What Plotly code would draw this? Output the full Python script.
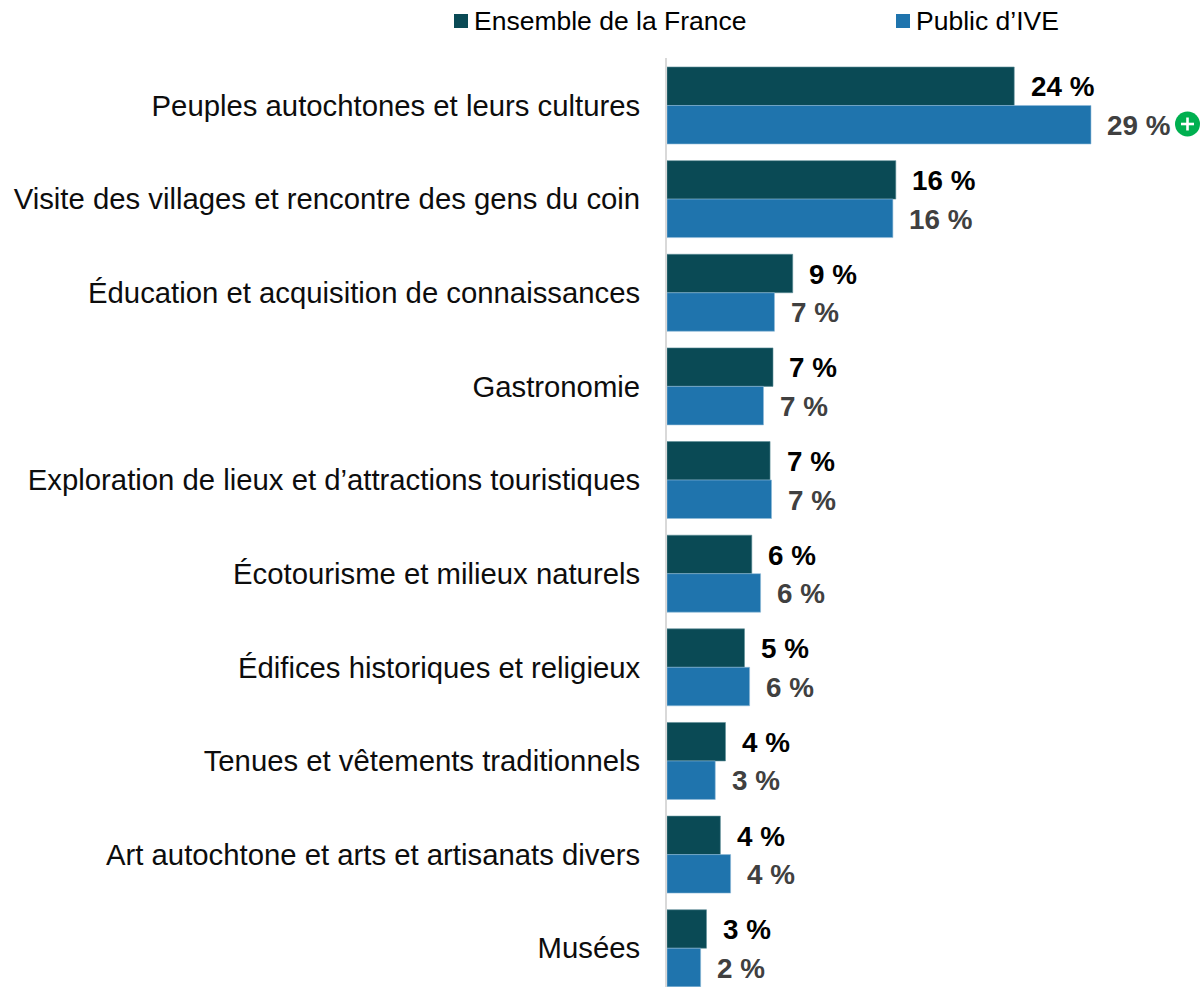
import plotly.graph_objects as go

categories = ["Peuples autochtones et leurs cultures",
              "Visite des villages et rencontre des gens du coin",
              "Éducation et acquisition de connaissances",
              "Gastronomie",
              "Exploration de lieux et d’attractions touristiques",
              "Écotourisme et milieux naturels",
              "Édifices historiques et religieux",
              "Tenues et vêtements traditionnels",
              "Art autochtone et arts et artisanats divers",
              "Musées"]
france = [23.75, 15.65, 8.6, 7.25, 7.05, 5.8, 5.3, 4.0, 3.65, 2.7]
ive = [29.0, 15.45, 7.35, 6.6, 7.15, 6.4, 5.65, 3.3, 4.35, 2.3]
france_labels = ["24 %", "16 %", "9 %", "7 %", "7 %", "6 %", "5 %", "4 %", "4 %", "3 %"]
ive_labels = ["29 %", "16 %", "7 %", "7 %", "7 %", "6 %", "6 %", "3 %", "4 %", "2 %"]

W, H = 1202, 987
L, T = 667, 58
DARK, BLUE, GREEN = "#0A4A55", "#1F74AD", "#00B050"
FONT = "Liberation Sans"


def px(x):
    return (x - L) / (W - L)


def py(y):
    return 1 - (y - T) / (H - T)


fig = go.Figure()
fig.add_bar(y=categories, x=france, orientation="h", name="Ensemble de la France",
            marker=dict(color=DARK, line=dict(color="#5E8F99", width=0.6)))
fig.add_bar(y=categories, x=ive, orientation="h", name="Public d’IVE",
            marker=dict(color=BLUE, line=dict(color="#8FBBD8", width=0.6)))

annotations = []
for c, v, t in zip(categories, france, france_labels):
    annotations.append(dict(x=v, y=c, text=f"<b>{t}</b>", showarrow=False, xanchor="left",
                            xshift=14.5, yshift=18.5, font=dict(family=FONT, size=27.8, color="#000000")))
for c, v, t in zip(categories, ive, ive_labels):
    annotations.append(dict(x=v, y=c, text=f"<b>{t}</b>", showarrow=False, xanchor="left",
                            xshift=14.5, yshift=-20, font=dict(family=FONT, size=27.8, color="#404040")))

shapes = [
    dict(type="rect", xref="paper", yref="paper", x0=px(454), x1=px(468), y0=py(28), y1=py(14),
         fillcolor=DARK, line_width=0),
    dict(type="rect", xref="paper", yref="paper", x0=px(896), x1=px(910), y0=py(28), y1=py(14),
         fillcolor=BLUE, line_width=0),
    dict(type="circle", xref="paper", yref="paper", x0=px(1175), x1=px(1200), y0=py(136.5), y1=py(111.5),
         fillcolor=GREEN, line_width=0),
    dict(type="rect", xref="paper", yref="paper", x0=px(1181), x1=px(1194), y0=py(125.3), y1=py(122.7),
         fillcolor="white", line_width=0),
    dict(type="rect", xref="paper", yref="paper", x0=px(1186.2), x1=px(1188.8), y0=py(130.5), y1=py(117.5),
         fillcolor="white", line_width=0),
]
for x, t in [(474, "Ensemble de la France"), (916, "Public d’IVE")]:
    annotations.append(dict(xref="paper", yref="paper", x=px(x), y=py(21), text=t, showarrow=False,
                            xanchor="left", yanchor="middle", xshift=-2,
                            font=dict(family=FONT, size=26.5, color="#000000")))

fig.update_layout(
    width=W, height=H, barmode="group", bargap=0.178, bargroupgap=0,
    margin=dict(l=L, r=0, t=T, b=0, pad=0), showlegend=False,
    plot_bgcolor="white", paper_bgcolor="white",
    annotations=annotations, shapes=shapes,
    xaxis=dict(range=[0, (W - L) / 14.62], visible=False, fixedrange=True),
    yaxis=dict(range=[9.414, -0.507], automargin=False, showgrid=False, zeroline=False,
               showline=True, linecolor="#D9D9D9", linewidth=2, ticks="", ticklabelstandoff=19,
               tickfont=dict(family=FONT, size=29.3, color="#0D0D0D"), fixedrange=True),
)
for a in fig.layout.annotations:
    a.update(xref=a.xref or "x", yref=a.yref or "y")
fig.write_html("out.html", config=dict(displayModeBar=False),
               post_script="document.body.style.margin='0';document.body.style.overflow='hidden';")
